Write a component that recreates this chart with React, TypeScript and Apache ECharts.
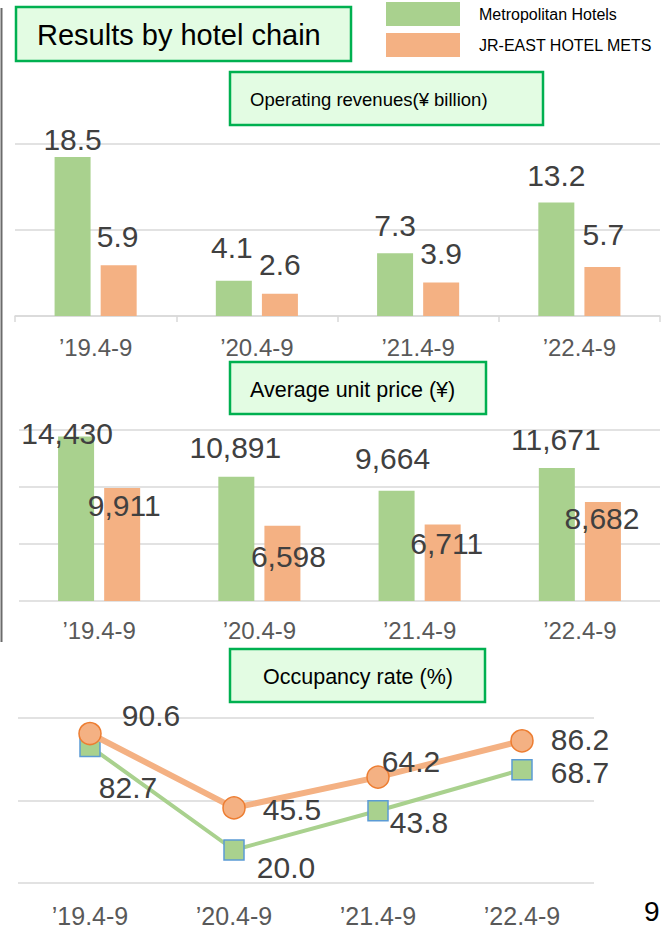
import React, { useEffect, useRef } from "react";
import * as echarts from "echarts";

const categories = ["’19.4-9", "’20.4-9", "’21.4-9", "’22.4-9"];
const seriesNames = ["Metropolitan Hotels", "JR-EAST HOTEL METS"];

const revenueMetropolitan = [18.5, 4.1, 7.3, 13.2];
const revenueMets = [5.9, 2.6, 3.9, 5.7];
const revenueAxis = { min: 0, max: 20, interval: 10 };

const priceMetropolitan = [14430, 10891, 9664, 11671];
const priceMets = [9911, 6598, 6711, 8682];
const priceAxis = { min: 0, max: 15000, interval: 5000 };

const occupancyMetropolitan = [82.7, 20.0, 43.8, 68.7];
const occupancyMets = [90.6, 45.5, 64.2, 86.2];
const occupancyAxis = { min: 0, max: 100, interval: 50 };

// label placement tweaks (style only)
const revMetroOffsets = [[0, 12], [-2, -4], [0, 1], [0, 2]];
const revMetsOffsets = [[-1, 0], [0, 0], [0, 0], [1, -3]];
const priceMetroOffsets = [[-9, 26], [-1, 0], [-4, -3], [-1, 1]];
const priceMetsOffsets = [[2, 46], [6, 60], [4, 48], [-1, 45]];
const occMetroOffsets = [[38, 41], [52, 17], [41, 12], [58, 3]];
const occMetsOffsets = [[61, -18], [58, 2], [33, -16], [58, -1]];

const FONT = "'Liberation Sans', Arial, sans-serif";
const GREEN = "#a9d18e";
const ORANGE = "#f4b183";
const GRID_LINE = "#d9d9d9";
const LABEL_COLOR = "#404040";
const BOX_FILL = "#e3fce3";
const BOX_STROKE = "#00b050";

const withOffsets = (vals: number[], offs: number[][]) =>
  vals.map((v, i) => ({ value: v, label: { offset: offs[i] } }));

const fmt1 = (p: any) => Number(p.value).toFixed(1);
const fmtComma = (p: any) => Number(p.value).toLocaleString("en-US");

function makeXAxis(gridIndex: number, withLine: boolean, margin: number, fontSize: number) {
  return {
    type: "category",
    gridIndex,
    data: categories,
    axisLine: { show: withLine, lineStyle: { color: GRID_LINE, width: 1.5 } },
    axisTick: { show: withLine, length: 6, lineStyle: { color: GRID_LINE, width: 1.5 } },
    axisLabel: { fontSize, color: "#595959", fontFamily: FONT, margin },
  };
}

function makeYAxis(gridIndex: number, ax: { min: number; max: number; interval: number }) {
  return {
    type: "value",
    gridIndex,
    min: ax.min,
    max: ax.max,
    interval: ax.interval,
    axisLine: { show: false },
    axisTick: { show: false },
    axisLabel: { show: false },
    splitLine: { show: true, lineStyle: { color: GRID_LINE, width: 1.5 } },
  };
}

const barLabel = (formatter: any) => ({
  show: true,
  position: "top",
  distance: 14,
  fontSize: 30,
  color: LABEL_COLOR,
  fontFamily: FONT,
  formatter,
});

const lineLabel = {
  show: true,
  position: "inside",
  fontSize: 30,
  lineHeight: 24,
  color: LABEL_COLOR,
  fontFamily: FONT,
  formatter: fmt1,
};

function boxWithText(x: number, y: number, w: number, h: number, text: string, tx: number, ty: number, fs: number) {
  return [
    {
      type: "rect",
      shape: { x, y, width: w, height: h },
      style: { fill: BOX_FILL, stroke: BOX_STROKE, lineWidth: 2.5 },
    },
    {
      type: "text",
      x: tx,
      y: ty,
      style: { text, fontSize: fs, fontFamily: FONT, fill: "#000", align: "left", verticalAlign: "middle" },
    },
  ];
}

export default function App() {
  const ref = useRef<HTMLDivElement>(null);
  useEffect(() => {
    if (!ref.current) return;
    const chart = echarts.init(ref.current, undefined, { renderer: "svg" });
    const option: any = {
      animation: false,
      backgroundColor: "#ffffff",
      legend: {
        data: seriesNames,
        orient: "vertical",
        left: 386,
        top: 2,
        padding: 0,
        itemWidth: 74,
        itemHeight: 24,
        itemGap: 7,
        icon: "rect",
        selectedMode: false,
        textStyle: { fontSize: 16, color: "#000", fontFamily: FONT, padding: [0, 0, 0, 14] },
      },
      grid: [
        { left: 15, width: 645, top: 144, height: 172 },
        { left: 19, width: 641, top: 430, height: 171 },
        { left: 18, width: 576, top: 718, height: 166 },
      ],
      xAxis: [makeXAxis(0, true, 19, 24), makeXAxis(1, false, 17, 24), makeXAxis(2, false, 20, 25)],
      yAxis: [makeYAxis(0, revenueAxis), makeYAxis(1, priceAxis), makeYAxis(2, occupancyAxis)],
      series: [
        {
          name: seriesNames[0],
          type: "bar",
          xAxisIndex: 0,
          yAxisIndex: 0,
          barWidth: 36,
          barGap: "28%",
          itemStyle: { color: GREEN },
          label: barLabel(fmt1),
          data: withOffsets(revenueMetropolitan, revMetroOffsets),
        },
        {
          name: seriesNames[1],
          type: "bar",
          xAxisIndex: 0,
          yAxisIndex: 0,
          barWidth: 36,
          barGap: "28%",
          itemStyle: { color: ORANGE },
          label: barLabel(fmt1),
          data: withOffsets(revenueMets, revMetsOffsets),
        },
        {
          name: seriesNames[0],
          type: "bar",
          xAxisIndex: 1,
          yAxisIndex: 1,
          barWidth: 36,
          barGap: "28%",
          itemStyle: { color: GREEN },
          label: barLabel(fmtComma),
          data: withOffsets(priceMetropolitan, priceMetroOffsets),
        },
        {
          name: seriesNames[1],
          type: "bar",
          xAxisIndex: 1,
          yAxisIndex: 1,
          barWidth: 36,
          barGap: "28%",
          itemStyle: { color: ORANGE },
          label: barLabel(fmtComma),
          data: withOffsets(priceMets, priceMetsOffsets),
        },
        {
          name: seriesNames[0],
          type: "line",
          xAxisIndex: 2,
          yAxisIndex: 2,
          symbol: "rect",
          symbolSize: 20,
          lineStyle: { color: GREEN, width: 4 },
          itemStyle: { color: GREEN, borderColor: "#5b9bd5", borderWidth: 1.5 },
          label: lineLabel,
          data: withOffsets(occupancyMetropolitan, occMetroOffsets),
          z: 3,
        },
        {
          name: seriesNames[1],
          type: "line",
          xAxisIndex: 2,
          yAxisIndex: 2,
          symbol: "circle",
          symbolSize: 22,
          lineStyle: { color: ORANGE, width: 6 },
          itemStyle: { color: ORANGE, borderColor: "#ed7d31", borderWidth: 1.5 },
          label: lineLabel,
          data: withOffsets(occupancyMets, occMetsOffsets),
          z: 4,
        },
      ],
      graphic: [
        {
          type: "line",
          shape: { x1: 1.5, y1: 8, x2: 1.5, y2: 642 },
          style: { stroke: "#6b6b6b", lineWidth: 2 },
        },
        ...boxWithText(16, 7, 335, 54, "Results by hotel chain", 37, 35, 29),
        ...boxWithText(230, 72, 313, 53, "Operating revenues(¥ billion)", 250, 99, 18.5),
        ...boxWithText(230, 362, 256, 52, "Average unit price (¥)", 250, 390, 21.5),
        ...boxWithText(230, 649, 255, 53, "Occupancy rate (%)", 263, 677, 21.5),
        {
          type: "text",
          x: 644,
          y: 911,
          style: { text: "9", fontSize: 28, fontFamily: FONT, fill: "#000", align: "left", verticalAlign: "middle" },
        },
      ],
    };
    chart.setOption(option);
    return () => chart.dispose();
  }, []);
  return <div ref={ref} style={{ position: "fixed", left: 0, top: 0, width: 662, height: 928 }} />;
}
